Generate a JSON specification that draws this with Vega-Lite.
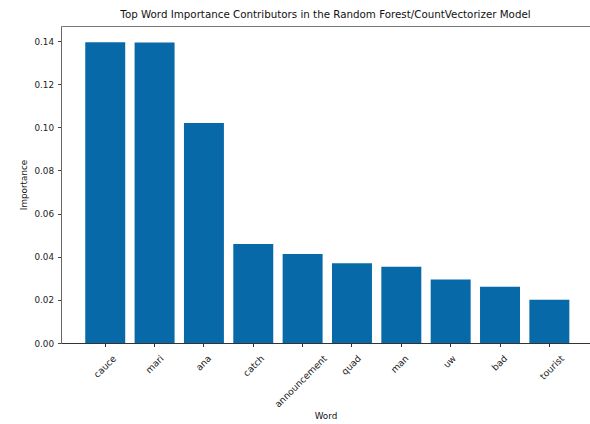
{
  "$schema": "https://vega.github.io/schema/vega-lite/v6.json",
  "width": 529,
  "height": 317,
  "autosize": {"type": "none"},
  "padding": {"left": 61, "top": 26, "right": 0, "bottom": 81},
  "background": "white",
  "config": {
    "view": {"stroke": null},
    "font": "DejaVu Sans",
    "axis": {"labelFont": "DejaVu Sans", "titleFont": "DejaVu Sans", "grid": false}
  },
  "title": {
    "text": "Top Word Importance Contributors in the Random Forest/CountVectorizer Model",
    "font": "DejaVu Sans",
    "fontSize": 10.3,
    "fontWeight": "normal",
    "color": "#111",
    "anchor": "middle",
    "offset": 6
  },
  "data": {
    "values": [
      {"word": "cauce", "importance": 0.1395},
      {"word": "mari", "importance": 0.1393},
      {"word": "ana", "importance": 0.102},
      {"word": "catch", "importance": 0.0459},
      {"word": "announcement", "importance": 0.0413},
      {"word": "quad", "importance": 0.037},
      {"word": "man", "importance": 0.0354},
      {"word": "uw", "importance": 0.0294},
      {"word": "bad", "importance": 0.0261},
      {"word": "tourist", "importance": 0.0201}
    ]
  },
  "layer": [
    {
      "mark": {"type": "bar", "color": "#0769a7"},
      "encoding": {
        "x": {
          "field": "word",
          "type": "nominal",
          "sort": null,
          "scale": {"paddingInner": 0.19, "paddingOuter": 0.455, "align": 0.54},
          "axis": {
            "orient": "bottom",
            "title": "Word",
            "titleFontSize": 8.8,
            "titleFontWeight": "normal",
            "titleColor": "#111",
            "titlePadding": 2,
            "labelAngle": -45,
            "labelAlign": "right",
            "labelBaseline": "middle",
            "labelFontSize": 9.2,
            "labelColor": "#222",
            "labelPadding": 10,
            "labelOffset": {"expr": "length(datum.label) * 1.9"},
            "tickSize": 3.5,
            "tickColor": "#333",
            "domainColor": "#333",
            "labelOverlap": false
          }
        },
        "y": {
          "field": "importance",
          "type": "quantitative",
          "scale": {"domain": [0, 0.147], "nice": false, "zero": true},
          "axis": {
            "title": "Importance",
            "titleFontSize": 8.8,
            "titleFontWeight": "normal",
            "titleColor": "#111",
            "titlePadding": 5,
            "values": [0, 0.02, 0.04, 0.06, 0.08, 0.1, 0.12, 0.14],
            "format": ".2f",
            "labelFontSize": 8.8,
            "labelColor": "#222",
            "labelPadding": 4,
            "tickSize": 3.5,
            "tickColor": "#444",
            "domainColor": "#666"
          }
        }
      }
    },
    {
      "mark": {"type": "bar", "opacity": 0},
      "encoding": {
        "x": {
          "field": "word",
          "type": "nominal",
          "sort": null,
          "axis": {
            "orient": "top",
            "title": null,
            "labels": false,
            "ticks": false,
            "domainColor": "#777"
          }
        },
        "y": {"field": "importance", "type": "quantitative"}
      }
    }
  ],
  "resolve": {"axis": {"x": "independent"}}
}
